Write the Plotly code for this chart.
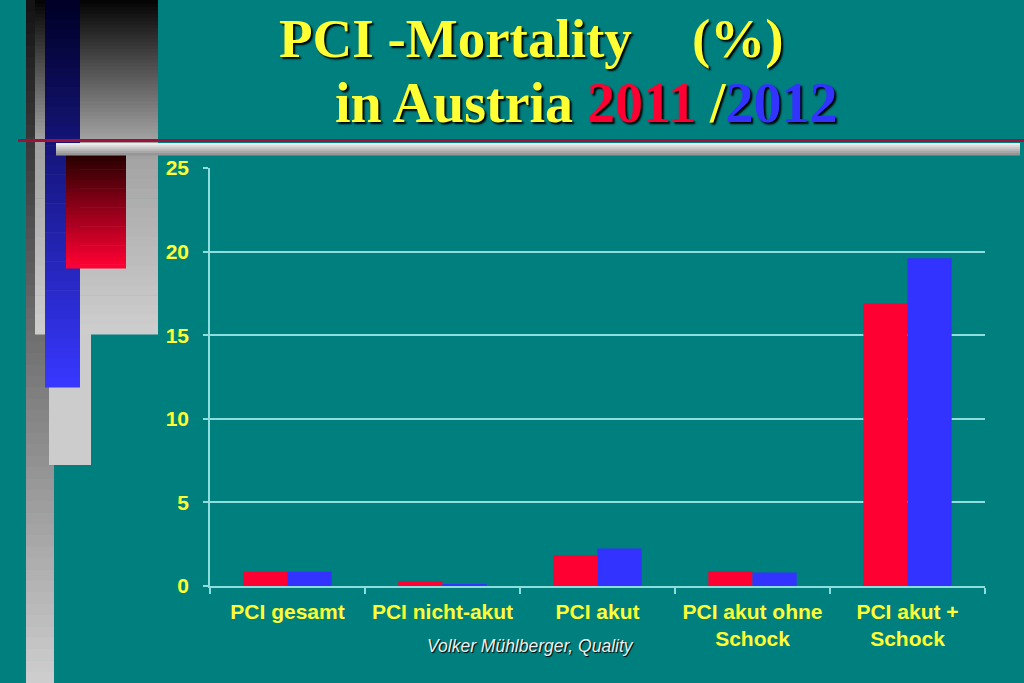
import plotly.graph_objects as go

# chart data
categories = ["PCI gesamt", "PCI nicht-akut", "PCI akut",
              "PCI akut ohne<br>Schock", "PCI akut +<br>Schock"]
mortality_2011 = [0.85, 0.3, 1.85, 0.9, 16.9]
mortality_2012 = [0.85, 0.08, 2.25, 0.8, 19.6]
y_ticks = [0, 5, 10, 15, 20, 25]

TEAL = "#007f7f"
YELLOW = "#ffff33"
RED = "#ff0033"
BLUE = "#3333ff"
GRID = "#8fdede"

# plot area in pixels (1024x683 page)
L, R, T, B = 210, 985, 168, 586


def px(x, y):
    """pixel position -> paper coords"""
    return (x - L) / (R - L), (B - y) / (B - T)


def rect(x0, y0, x1, y1, color):
    a, b = px(x0, y1)
    c, d = px(x1, y0)
    return dict(type="rect", xref="paper", yref="paper", x0=a, y0=b, x1=c, y1=d,
                fillcolor=color, line=dict(width=0), layer="below")


def mix(c1, c2, t):
    return "rgb(%d,%d,%d)" % tuple(round(c1[i] + (c2[i] - c1[i]) * t) for i in range(3))


def vgrad(x0, y0, x1, y1, c_top, c_bot, n=24):
    out = []
    h = (y1 - y0) / n
    for i in range(n):
        out.append(rect(x0, y0 + i * h, x1, y0 + (i + 1) * h + 0.6, mix(c_top, c_bot, i / (n - 1))))
    return out


# slide decoration on the left / top
shapes = []
shapes += vgrad(26, 0, 54, 683, (20, 20, 20), (205, 205, 205), 60)
shapes += vgrad(35, 0, 158, 140, (5, 5, 5), (160, 160, 160), 40)
shapes += vgrad(35, 140, 158, 334, (160, 160, 160), (205, 205, 205), 20)
shapes.append(rect(49, 334, 91, 465, "#cccccc"))
shapes += vgrad(45, 0, 80, 387, (0, 0, 40), (55, 55, 255), 40)
shapes += vgrad(66, 154, 126, 268, (40, 0, 0), (255, 0, 51), 30)
shapes += vgrad(56, 143, 1020, 155, (235, 235, 235), (150, 150, 150), 6)
shapes.append(rect(18, 139, 1024, 142, "#a0103a"))

fig = go.Figure()
fig.add_trace(go.Bar(x=categories, y=mortality_2011, name="2011", marker=dict(color=RED, line=dict(width=0))))
fig.add_trace(go.Bar(x=categories, y=mortality_2012, name="2012", marker=dict(color=BLUE, line=dict(width=0))))

shadow = "2px 2px 2px #000000"
title_font = dict(family="Liberation Serif", size=55, color=YELLOW, weight="bold", shadow=shadow)
annotations = [
    dict(text="PCI -Mortality", x=px(277, 0)[0], y=px(0, 38)[1], xanchor="left", yanchor="middle", font=title_font),
    dict(text="(%)", x=px(690, 0)[0], y=px(0, 38)[1], xanchor="left", yanchor="middle", font=title_font),
    dict(text="in Austria <span style='color:%s'>2011</span> /<span style='color:%s'>2012</span>" % (RED, BLUE),
         x=px(333, 0)[0], y=px(0, 103)[1], xanchor="left", yanchor="middle",
         font=dict(title_font, size=56)),
    dict(text="Volker Mühlberger, Quality", x=px(530, 0)[0], y=px(0, 646)[1], xanchor="center", yanchor="middle",
         font=dict(family="Liberation Sans", size=17.5, color="#f0f0f0", style="italic", shadow="1px 1px 1px #000000")),
]
for a in annotations:
    a.update(xref="paper", yref="paper", showarrow=False)

fig.update_layout(
    width=1024, height=683,
    margin=dict(l=L, r=1024 - R, t=T, b=683 - B),
    paper_bgcolor=TEAL, plot_bgcolor="rgba(0,0,0,0)",
    barmode="group", bargap=0.43, bargroupgap=0,
    showlegend=False,
    shapes=shapes, annotations=annotations,
    font=dict(family="Liberation Sans", color=YELLOW),
)
fig.update_xaxes(
    tickson="boundaries", ticks="outside", ticklen=6, tickcolor=GRID, tickwidth=1.5,
    showline=True, linecolor=GRID, linewidth=1.5, showgrid=False, ticklabelstandoff=6,
    tickfont=dict(size=21, color=YELLOW, weight="bold"), tickangle=0,
)
fig.update_yaxes(
    range=[0, 25], tickvals=y_ticks, ticks="outside", ticklen=5, tickcolor=GRID, tickwidth=1.5,
    showline=True, linecolor=GRID, linewidth=1.5, showgrid=True, gridcolor=GRID, gridwidth=1.5,
    zeroline=False, ticklabelstandoff=10,
    tickfont=dict(size=21, color=YELLOW, weight="bold"),
)

fig.write_html("out.html", config={"displayModeBar": False},
               post_script="document.body.style.margin='0';")
